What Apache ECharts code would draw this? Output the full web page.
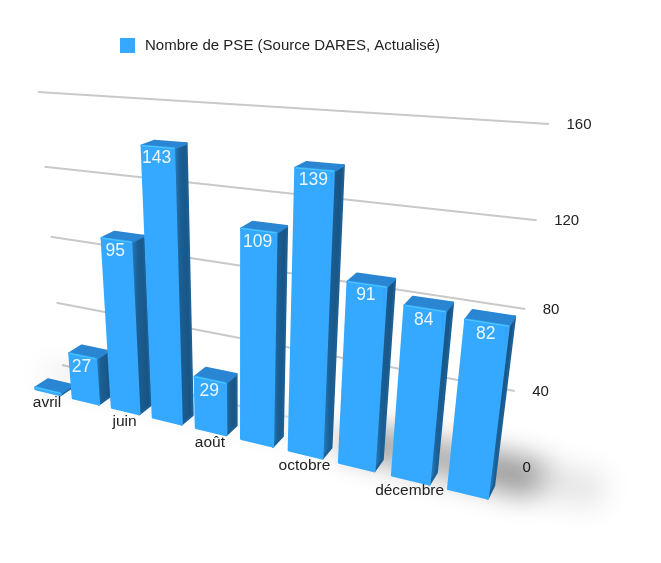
<!DOCTYPE html>
<html><head><meta charset="utf-8">
<style>html,body{margin:0;padding:0;background:#fff}#c{width:661px;height:563px}</style>
<script src="https://cdn.jsdelivr.net/npm/echarts@6/dist/echarts.min.js"></script>
</head><body><div id="c"></div>
<script>
const categories = ['avril','mai','juin','juillet','août','septembre','octobre','novembre','décembre','janvier'];
const shownCategories = ['avril','juin','août','octobre','décembre'];
const values = [1,27,95,143,29,109,139,91,84,82];
const yTicks = [0,40,80,120,160];
const seriesName = 'Nombre de PSE (Source DARES, Actualisé)';

// Camera calibration: three vanishing points of the perspective view
const VPX=[-1560,3], VPY=[240,2530], VPZ=[780,-90], ORIGIN=[48,392];
const KA=-0.023, KB=-0.000748, KC=0.0171;
const HALF=0.335;
function camera(u,v,w){
  const d=1+KA*u+KB*v+KC*w;
  return [(ORIGIN[0]+KA*u*VPX[0]+KB*v*VPY[0]+KC*w*VPZ[0])/d,
          (ORIGIN[1]+KA*u*VPX[1]+KB*v*VPY[1]+KC*w*VPZ[1])/d];
}
// Back wall calibration (unit square to quad)
const WALL=[[38,92],[549,124],[505,467],[62,365]];
function wallMap(s,t){ // s along categories, t 1 = top
  const [p0,p1,p2,p3]=WALL;
  const dx1=p1[0]-p2[0],dx2=p3[0]-p2[0],dx3=p0[0]-p1[0]+p2[0]-p3[0];
  const dy1=p1[1]-p2[1],dy2=p3[1]-p2[1],dy3=p0[1]-p1[1]+p2[1]-p3[1];
  const den=dx1*dy2-dx2*dy1;
  const g=(dx3*dy2-dx2*dy3)/den,h=(dx1*dy3-dx3*dy1)/den;
  const a=p1[0]-p0[0]+g*p1[0],b=p3[0]-p0[0]+h*p3[0],c=p0[0];
  const d=p1[1]-p0[1]+g*p1[1],e=p3[1]-p0[1]+h*p3[1],f=p0[1];
  const y=1-t,w=g*s+h*y+1;
  return [(a*s+b*y+c)/w,(d*s+e*y+f)/w];
}
// axis pixel -> (u,v) through the library's scales
function reader(api){
  const o=api.coord([0,0]), bw=api.size([1,0])[0], vh=api.size([0,1])[1];
  return {
    band:bw,
    at(cat,val,du){const p=api.coord([cat,val]);return [(p[0]+(du||0)*bw-o[0])/bw,(o[1]-p[1])/vh];}
  };
}
function poly(points,style,z2){return {type:'polygon',z2:z2||0,shape:{points},style};}

function renderBar(params,api){
  const r=reader(api),i=api.value(0),val=api.value(1);
  const [ul,v]=r.at(i,val,-HALF),[ur]=r.at(i,val,HALF);
  const c=camera;
  const edge=(col)=>({stroke:col,lineWidth:2.5,lineJoin:'round'});
  const side=[c(ur,0,0),c(ur,0,1),c(ur,v,1),c(ur,v,0)];
  const top=[c(ul,v,0),c(ur,v,0),c(ur,v,1),c(ul,v,1)];
  const front=[c(ul,0,0),c(ur,0,0),c(ur,v,0),c(ul,v,0)];
  const sideFill=new echarts.graphic.LinearGradient(0,0,1,0,[
    {offset:0,color:'#2b86cc'},{offset:.35,color:'#1b5f94'},{offset:1,color:'#174f7c'}]);
  const frontFill=new echarts.graphic.LinearGradient(0,0,1,0,[
    {offset:0,color:'#35a8ff'},{offset:.9,color:'#35a8ff'},{offset:1,color:'#2f97e8'}]);
  const labelP=c((ul+ur)/2,v,0);
  return {type:'group',children:[
    poly(side,Object.assign({fill:sideFill},edge('#1b5f94'))),
    poly(top,Object.assign({fill:'#2a86d2'},edge('#2a86d2'))),
    poly(front,Object.assign({fill:frontFill},edge('#35a8ff'))),
    {type:'polyline',shape:{points:[c(ul,v,0),c(ur,v,0)]},style:{stroke:'#4fcbff',lineWidth:1,fill:null}},
    {type:'text',style:{text:String(val),x:labelP[0]-1,y:labelP[1]+11,align:'center',verticalAlign:'middle',
      textAlign:'center',textVerticalAlign:'middle',fill:'#eaf7ff',font:'17.5px "Liberation Sans"'}}
  ]};
}
function renderGrid(params,api){
  const val=api.value(0),p=api.coord([0,val]),o=api.coord([0,0]);
  const t=(o[1]-p[1])/(api.size([0,1])[1]*yTicks[yTicks.length-1]);
  const a=wallMap(0,t),b=wallMap(1,t);
  // the floor line fades out under the floor shadow
  const stroke=val===0?new echarts.graphic.LinearGradient(0,0,1,0,[
    {offset:0,color:'#c9c9c9'},{offset:.45,color:'#d8d8d8'},{offset:.6,color:'rgba(216,216,216,0)'},{offset:1,color:'rgba(216,216,216,0)'}]):'#c9c9c9';
  return {type:'group',children:[
    {type:'line',shape:{x1:a[0],y1:a[1],x2:b[0],y2:b[1]},style:{stroke,lineWidth:2}},
    {type:'text',style:{text:String(val),x:b[0]+17.5,y:b[1]+1,align:'left',verticalAlign:'middle',
      textAlign:'left',textVerticalAlign:'middle',fill:'#222',font:'15px "Liberation Sans"'}}
  ]};
}
function renderCatLabel(params,api){
  const r=reader(api),name=categories[api.value(0)];
  const [u]=r.at(api.value(0),0,0),p=camera(u,0,0);
  return {type:'text',style:{text:name,x:p[0]-1,y:p[1]+11,align:'center',verticalAlign:'middle',
    textAlign:'center',textVerticalAlign:'middle',fill:'#222',font:'15.5px "Liberation Sans"'}};
}
function renderShadow(params,api){
  const OFF=3000;
  const shift=pts=>pts.map(p=>[p[0]-OFF,p[1]]);
  const f=(u,w)=>camera(u,0,w);
  const quad=(u0,u1,w0,w1)=>shift([f(u0,w0),f(u1,w0),f(u1,w1),f(u0,w1)]);
  const sh=(pts,a,b)=>poly(pts,{fill:'#000',shadowColor:'rgba(0,0,0,'+a+')',shadowBlur:b,shadowOffsetX:OFF,shadowOffsetY:0});
  return {type:'group',children:[
    sh(quad(-0.8,7.5,1,3),0.07,28),
    sh(quad(6.5,10,0.8,3.6),0.34,28),
    sh(quad(9,11,1.2,3.6),0.12,30)
  ]};
}
const chart=echarts.init(document.getElementById('c'),null,{renderer:'canvas'});
chart.setOption({
  animation:false,
  backgroundColor:'#fff',
  grid:{left:0,right:0,top:0,bottom:0},
  xAxis:{type:'category',data:categories,show:false},
  yAxis:{type:'value',min:0,max:160,interval:40,show:false},
  legend:{left:120,top:38,padding:0,itemWidth:15,itemHeight:15,itemGap:0,icon:'rect',
    data:[{name:seriesName,itemStyle:{color:'#35a8ff'}}],
    textStyle:{color:'#222',fontFamily:'Liberation Sans',fontSize:15,padding:[3,0,0,5]}},
  series:[
    {type:'custom',name:'grid',silent:true,z:1,renderItem:renderGrid,data:yTicks.map(v=>[v]),encode:{y:0}},
    {type:'custom',name:'shadow',silent:true,z:2,renderItem:renderShadow,data:[[0]]},
    {type:'custom',name:seriesName,z:3,renderItem:renderBar,itemStyle:{color:'#35a8ff'},
      data:values.map((v,i)=>[i,v]),encode:{x:0,y:1}},
    {type:'custom',name:'labels',silent:true,z:4,renderItem:renderCatLabel,
      data:shownCategories.map(n=>[categories.indexOf(n)]),encode:{x:0}}
  ]
});
</script></body></html>
